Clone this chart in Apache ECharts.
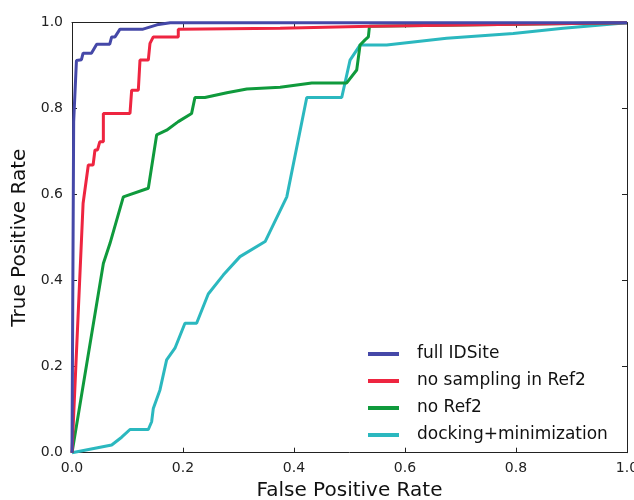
<!DOCTYPE html>
<html>
<head>
<meta charset="utf-8">
<script src="https://cdn.jsdelivr.net/npm/echarts@6/dist/echarts.min.js"></script>
<style>
  html, body { margin: 0; padding: 0; background: #fff; }
  #chart { width: 634px; height: 500px; }
</style>
</head>
<body>
<div id="chart"></div>
<script>
// ROC curves: [false positive rate, true positive rate]
const seriesNames = ['full IDSite', 'no sampling in Ref2', 'no Ref2', 'docking+minimization'];
const seriesColors = ['#4548a8', '#ee2540', '#0f9a3c', '#2bb8bf'];

const fullIDSite = [
  [0, 0], [0.003, 0.77], [0.008, 0.912], [0.017, 0.914], [0.020, 0.929],
  [0.035, 0.929], [0.0445, 0.950], [0.068, 0.950], [0.0715, 0.967],
  [0.0775, 0.967], [0.0865, 0.985], [0.128, 0.985], [0.153, 0.995],
  [0.177, 1.0], [1.0, 1.0]
];

const noSampling = [
  [0, 0], [0.020, 0.58], [0.0294, 0.669], [0.038, 0.669], [0.0414, 0.704],
  [0.046, 0.704], [0.050, 0.723], [0.0565, 0.723], [0.0565, 0.789],
  [0.1045, 0.789], [0.1075, 0.843], [0.1195, 0.843], [0.1225, 0.913],
  [0.1375, 0.913], [0.1405, 0.952], [0.1465, 0.967], [0.1915, 0.967],
  [0.1915, 0.985], [0.375, 0.987], [0.537, 0.992], [1.0, 1.0]
];

const noRef2 = [
  [0, 0], [0.0565, 0.440], [0.0685, 0.487], [0.0925, 0.595], [0.1375, 0.615],
  [0.1525, 0.739], [0.1705, 0.750], [0.1915, 0.770], [0.2155, 0.789],
  [0.2215, 0.826], [0.2395, 0.826], [0.279, 0.837], [0.315, 0.846],
  [0.375, 0.850], [0.432, 0.860], [0.495, 0.860], [0.513, 0.890],
  [0.519, 0.948], [0.528, 0.960], [0.534, 0.967], [0.536, 0.992], [1.0, 1.0]
];

const dockingMin = [
  [0, 0], [0.0715, 0.018], [0.0895, 0.036], [0.1045, 0.054], [0.1375, 0.054],
  [0.1435, 0.072], [0.1465, 0.103], [0.1585, 0.146], [0.1705, 0.216],
  [0.1855, 0.243], [0.2035, 0.301], [0.2245, 0.301], [0.2455, 0.369],
  [0.2725, 0.413], [0.3027, 0.456], [0.348, 0.491], [0.387, 0.595],
  [0.423, 0.826], [0.486, 0.826], [0.501, 0.913], [0.519, 0.948],
  [0.567, 0.948], [0.675, 0.964], [0.795, 0.975], [0.885, 0.987], [1.0, 1.0]
];

const tickValues = [0, 0.2, 0.4, 0.6, 0.8, 1.0];
const xTitle = 'False Positive Rate';
const yTitle = 'True Positive Rate';

const FONT = 'DejaVu Sans';
const axisLineStyle = { color: '#222', width: 1 };

function makeAxis(position, showLabels, name, nameGap) {
  return {
    type: 'value',
    position: position,
    min: 0, max: 1, interval: 0.2,
    name: showLabels ? name : '',
    nameLocation: 'middle',
    nameGap: nameGap,
    nameTextStyle: { fontFamily: FONT, fontSize: 20, color: '#111' },
    axisLine: { show: true, onZero: false, lineStyle: axisLineStyle },
    axisTick: { show: true, inside: true, length: 5, lineStyle: axisLineStyle },
    axisLabel: {
      show: showLabels, fontFamily: FONT, fontSize: 14, color: '#222',
      margin: 9, showMaxLabel: true, showMinLabel: true,
      formatter: v => tickValues.includes(Math.round(v * 10) / 10) ? v.toFixed(1) : ''
    },
    splitLine: { show: false }
  };
}

const chart = echarts.init(document.getElementById('chart'), null, { renderer: 'canvas' });
const curves = [fullIDSite, noSampling, noRef2, dockingMin];
// later entries sit lower so the full IDSite curve is drawn on top
const zOrder = [5, 4, 3, 2];

chart.setOption({
  animation: false,
  backgroundColor: '#fff',
  grid: {
    left: 72, right: 7, top: 22.7, bottom: 47.3,
    containLabel: false, outerBoundsMode: 'none'
  },
  xAxis: [
    makeAxis('bottom', true, xTitle, 27),
    makeAxis('top', false, '', 0)
  ],
  yAxis: [
    makeAxis('left', true, yTitle, 36),
    makeAxis('right', false, '', 0)
  ],
  legend: {
    orient: 'vertical',
    left: 363, top: 340.5,
    itemWidth: 31, itemHeight: 4, itemGap: 10,
    icon: 'rect',
    textStyle: { fontFamily: FONT, fontSize: 17, lineHeight: 17, color: '#111', padding: [0, 0, 0, 13] },
    data: seriesNames
  },
  series: curves.map((d, i) => ({
    name: seriesNames[i],
    type: 'line',
    data: d,
    xAxisIndex: 0, yAxisIndex: 0,
    showSymbol: false,
    symbol: 'none',
    z: zOrder[i],
    color: seriesColors[i],
    lineStyle: { width: 3, color: seriesColors[i] },
    clip: false
  }))
});
</script>
</body>
</html>
